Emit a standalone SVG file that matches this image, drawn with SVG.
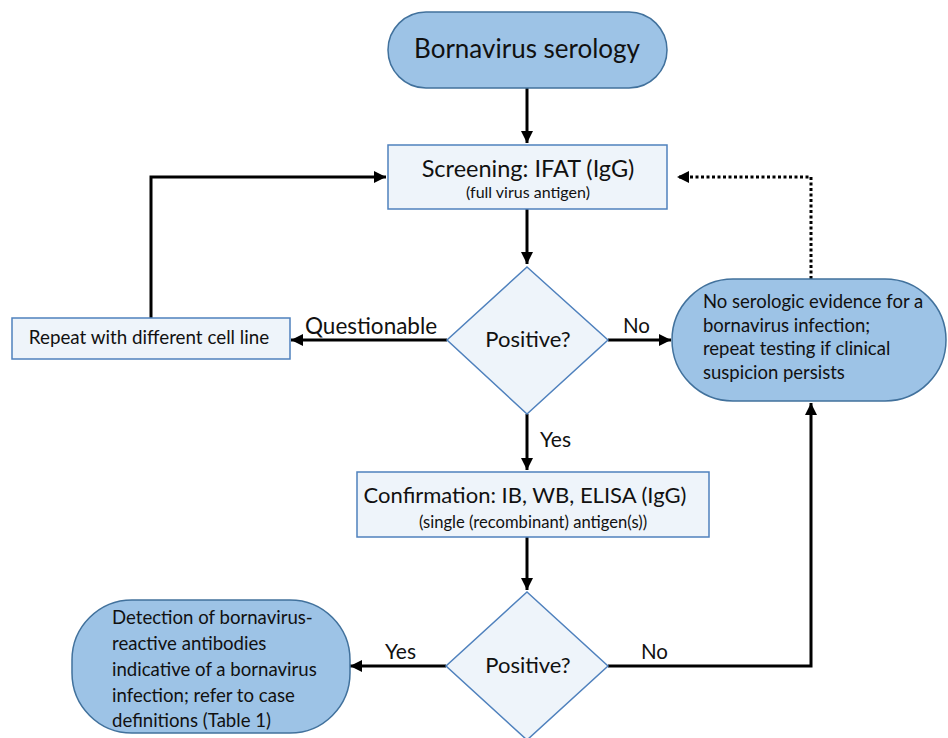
<svg xmlns="http://www.w3.org/2000/svg" width="948" height="738" viewBox="0 0 948 738">
<style>
.pill{fill:#9dc3e6;stroke:#41719c;stroke-width:1.5}
.box{fill:#eef4fa;stroke:#4f81bd;stroke-width:1.5}
.t{font-family:Lato,"Liberation Sans",sans-serif;fill:#111}
.c{text-anchor:middle}
.ln{fill:none;stroke:#000;stroke-width:3}
.dot{fill:none;stroke:#000;stroke-width:3;stroke-dasharray:3 2.5}
</style>
<defs>
<marker id="ah" viewBox="0 0 10 10" refX="10" refY="5" markerWidth="4" markerHeight="4" markerUnits="strokeWidth" orient="auto">
<path d="M0,0 L10,5 L0,10 z" fill="#000"/>
</marker>
</defs>
<rect width="948" height="738" fill="#fff"/>
<g id="connectors">
<path class="ln" d="M527,88 V143" marker-end="url(#ah)"/>
<path class="ln" d="M527,209 V264" marker-end="url(#ah)"/>
<path class="ln" d="M608,340 H671" marker-end="url(#ah)"/>
<path class="ln" d="M447,340 H291" marker-end="url(#ah)"/>
<path class="ln" d="M151,318 V177 H386" marker-end="url(#ah)"/>
<path class="dot" d="M811,279 V177 H677" marker-end="url(#ah)"/>
<path class="ln" d="M527,414 V470" marker-end="url(#ah)"/>
<path class="ln" d="M527,537 V590" marker-end="url(#ah)"/>
<path class="ln" d="M446,666 H350" marker-end="url(#ah)"/>
<path class="ln" d="M608,666 H811 V403" marker-end="url(#ah)"/>
<text class="t" x="305" y="334" font-size="22.5">Questionable</text>
<text class="t" x="623" y="333" font-size="20.5">No</text>
<text class="t" x="540" y="447" font-size="21">Yes</text>
<text class="t" x="385" y="659" font-size="21">Yes</text>
<text class="t" x="641" y="659" font-size="20.5">No</text>
</g>
<g id="start">
<rect class="pill" x="388" y="12" width="279" height="76" rx="38"/>
<text class="t c" x="527" y="58" font-size="26">Bornavirus serology</text>
</g>
<g id="screening">
<rect class="box" x="388" y="145" width="279" height="64"/>
<text class="t c" x="528" y="177" font-size="23.5">Screening: IFAT (IgG)</text>
<text class="t c" x="528" y="198" font-size="16">(full virus antigen)</text>
</g>
<g id="decision1">
<polygon class="box" points="527,267 608,340 527,414 447,340"/>
<text class="t c" x="528" y="347" font-size="22">Positive?</text>
</g>
<g id="repeat">
<rect class="box" x="12" y="318" width="278" height="41"/>
<text class="t c" x="149" y="344" font-size="18.8">Repeat with different cell line</text>
</g>
<g id="negative">
<rect class="pill" x="672" y="279" width="274" height="122" rx="61"/>
<text class="t" x="703" y="308" font-size="18.5">No serologic evidence for a</text>
<text class="t" x="703" y="332" font-size="18.5">bornavirus infection;</text>
<text class="t" x="703" y="355" font-size="18.5">repeat testing if clinical</text>
<text class="t" x="703" y="379" font-size="18.5">suspicion persists</text>
</g>
<g id="confirmation">
<rect class="box" x="357" y="472" width="352" height="65"/>
<text class="t c" x="525" y="503" font-size="22">Confirmation: IB, WB, ELISA (IgG)</text>
<text class="t c" x="533" y="528" font-size="16.6">(single (recombinant) antigen(s))</text>
</g>
<g id="decision2">
<polygon class="box" points="527,592 608,666 527,740 446,666"/>
<text class="t c" x="528" y="673" font-size="22">Positive?</text>
</g>
<g id="positive">
<rect class="pill" x="72" y="600" width="278" height="133" rx="60"/>
<text class="t" x="112" y="624" font-size="18.6">Detection of bornavirus-</text>
<text class="t" x="112" y="650" font-size="18.6">reactive antibodies</text>
<text class="t" x="112" y="676" font-size="18.6">indicative of a bornavirus</text>
<text class="t" x="112" y="702" font-size="18.6">infection; refer to case</text>
<text class="t" x="112" y="727" font-size="18.6">definitions (Table 1)</text>
</g>
</svg>
